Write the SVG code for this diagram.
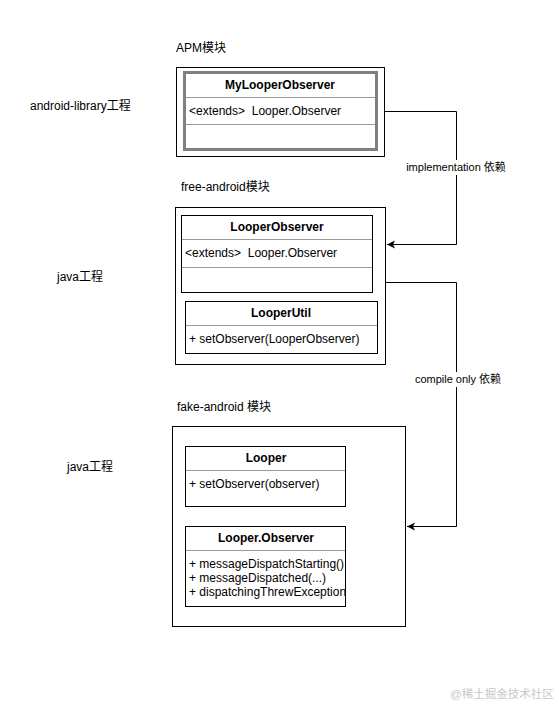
<svg xmlns="http://www.w3.org/2000/svg" width="559" height="706" viewBox="0 0 559 706">
<style>
text{font-family:"Liberation Sans",Arial,"Noto Sans CJK SC",sans-serif;font-size:12px;fill:#000}
.b{font-weight:bold;text-anchor:middle}
.box{fill:#fff;stroke:#000;stroke-width:1}
.cls{fill:#fff;stroke:#000;stroke-width:1}
.div{stroke:#999;stroke-width:1}
.conn{fill:none;stroke:#000;stroke-width:1}
.lbl{text-anchor:middle;font-size:11px}
</style>
<defs>
<marker id="arr" markerWidth="10" markerHeight="10" refX="8" refY="4" orient="auto" markerUnits="userSpaceOnUse">
<path d="M0,0 L8,4 L0,8 L2,4 Z" fill="#000"/>
</marker>
</defs>
<rect width="559" height="706" fill="#fff"/>
<g id="labels">
<text x="176" y="52">APM模块</text>
<text x="181" y="191">free-android模块</text>
<text x="177" y="411">fake-android 模块</text>
<text x="30" y="110">android-library工程</text>
<text x="57" y="281">java工程</text>
<text x="67" y="471">java工程</text>
</g>
<g id="apm-module">
<rect class="box" x="176.5" y="67.5" width="208" height="89"/>
</g>
<g id="MyLooperObserver">
<rect x="184.5" y="72.5" width="192" height="77" fill="#fff" stroke="#808080" stroke-width="3"/>
<line class="div" x1="186" y1="97.5" x2="375" y2="97.5"/>
<line class="div" x1="186" y1="124.5" x2="375" y2="124.5"/>
<text class="b" x="280" y="89">MyLooperObserver</text>
<text x="189" y="115">&lt;extends&gt;&#160; Looper.Observer</text>
</g>
<g id="free-android-module">
<rect class="box" x="175.5" y="207.5" width="210" height="157"/>
</g>
<g id="LooperObserver">
<rect class="cls" x="181.5" y="215.5" width="191" height="77"/>
<line class="div" x1="182" y1="239.5" x2="372" y2="239.5"/>
<line class="div" x1="182" y1="267.5" x2="372" y2="267.5"/>
<text class="b" x="277" y="231">LooperObserver</text>
<text x="185" y="257">&lt;extends&gt;&#160; Looper.Observer</text>
</g>
<g id="LooperUtil">
<rect class="cls" x="185.5" y="301.5" width="192" height="52"/>
<line class="div" x1="186" y1="325.5" x2="377" y2="325.5"/>
<text class="b" x="281" y="317">LooperUtil</text>
<text x="189" y="343">+ setObserver(LooperObserver)</text>
</g>
<g id="fake-android-module">
<rect class="box" x="172.5" y="426.5" width="233" height="200"/>
</g>
<g id="Looper">
<rect class="cls" x="185.5" y="446.5" width="160" height="60"/>
<line class="div" x1="186" y1="470.5" x2="345" y2="470.5"/>
<text class="b" x="266" y="462">Looper</text>
<text x="189" y="488">+ setObserver(observer)</text>
</g>
<g id="LooperObserverInterface">
<rect class="cls" x="185.5" y="526.5" width="160" height="80"/>
<line class="div" x1="186" y1="550.5" x2="345" y2="550.5"/>
<text class="b" x="266" y="542">Looper.Observer</text>
<text x="189" y="568">+ messageDispatchStarting()</text>
<text x="189" y="582">+ messageDispatched(...)</text>
<text x="189" y="596">+ dispatchingThrewException</text>
</g>
<g id="connectors">
<path class="conn" d="M385,111.5 H456.5 V244.5 H387" marker-end="url(#arr)"/>
<path class="conn" d="M386,282.5 H456.5 V526.5 H407" marker-end="url(#arr)"/>
<rect x="406" y="160" width="101" height="15" fill="#fff"/>
<text class="lbl" x="456" y="171">implementation 依赖</text>
<rect x="415" y="372" width="87" height="15" fill="#fff"/>
<text class="lbl" x="458" y="383">compile only 依赖</text>
</g>
<g id="watermark">
<text x="450" y="698" style="fill:#c8c8c8;font-size:11.5px">@稀土掘金技术社区</text>
</g>
</svg>
